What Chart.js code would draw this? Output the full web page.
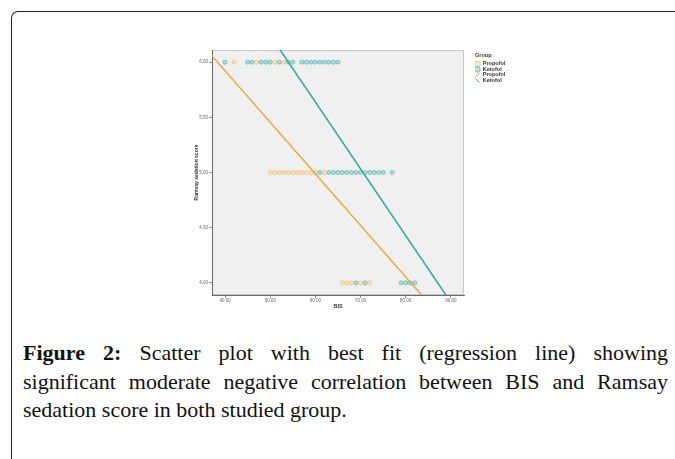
<!DOCTYPE html>
<html>
<head>
<meta charset="utf-8">
<script src="https://cdn.jsdelivr.net/npm/chart.js@4.4.1/dist/chart.umd.min.js"></script>
<style>
  html, body { margin: 0; padding: 0; background: #fff; }
  body { width: 675px; height: 459px; position: relative; overflow: hidden; }
  #frame { position: absolute; left: 11px; top: 11px; width: 720px; height: 520px;
           border-top: 1.5px solid #222; border-left: 1.5px solid #222; border-top-left-radius: 7px; }
  #wrap { position: absolute; left: 180px; top: 40px; width: 380px; height: 275px; }
  .cap { position: absolute; left: 23px; width: 645px; font-family: "Liberation Serif", "Times New Roman", serif;
         font-size: 22px; line-height: 28.5px; color: #111; }
  .cap div { white-space: nowrap; }
  .cap .just { text-align: justify; text-align-last: justify; white-space: normal; }
</style>
</head>
<body>
<div id="frame"></div>
<div id="wrap"><canvas id="chart" width="380" height="275"></canvas></div>
<div class="cap" style="top:339px">
  <div class="just"><b>Figure 2:</b> Scatter plot with best fit (regression line) showing</div>
  <div class="just">significant moderate negative correlation between BIS and Ramsay</div>
  <div>sedation score in both studied group.</div>
</div>
<script>
// BIS values, one list per Ramsay level (6, 5, 4)
const ramsayLevels = [6, 5, 4];
const propofolBIS = [
  [42, 47, 51, 53],
  [50, 51, 52, 53, 54, 55, 56, 57, 58, 59, 60, 62],
  [66, 67, 68, 70, 72]
];
const ketofolBIS = [
  [40, 45, 46, 48, 49, 50, 52, 54, 55, 57, 58, 59, 60, 61, 62, 63, 64, 65],
  [61, 63, 64, 65, 66, 67, 68, 69, 70, 71, 72, 73, 74, 75, 77],
  [69, 71, 79, 80, 81, 82]
];
// regression lines: score = intercept + slope * BIS  (propofol, ketofol)
const fitIntercept = [7.789, 9.268];
const fitSlope = [-0.0467, -0.0605];
const fitRange = [30, 100];

const xTicks = [40, 50, 60, 70, 80, 90];
const yTicks = [4, 4.5, 5, 5.5, 6];

const orange = '#eaa846', teal = '#2aa7a2';

function toPoints(rows) {
  const pts = [];
  rows.forEach((row, i) => row.forEach(b => pts.push({ x: b, y: ramsayLevels[i] })));
  return pts;
}
function fitLine(g) {
  return fitRange.map(b => ({ x: b, y: fitIntercept[g] + fitSlope[g] * b }));
}

Chart.defaults.font.family = '"Liberation Sans", Arial, sans-serif';

const plotBg = {
  id: 'plotBg',
  beforeDraw(chart) {
    const { ctx, chartArea: a } = chart;
    ctx.save();
    ctx.fillStyle = '#f0f0f0';
    ctx.fillRect(a.left, a.top, a.width, a.height);
    ctx.strokeStyle = '#c8c8c8';
    ctx.lineWidth = 1;
    ctx.strokeRect(a.left + 0.5, a.top + 0.5, a.width - 1, a.height - 1);
    ctx.restore();
  }
};

const tickFont = { size: 4.5 };

new Chart(document.getElementById('chart'), {
  type: 'scatter',
  data: {
    datasets: [
      { label: 'Propofol', data: toPoints(propofolBIS), order: 1,
        pointStyle: 'circle', pointRadius: 2, borderWidth: 0.8,
        borderColor: '#f0c27a', backgroundColor: 'rgba(247, 220, 172, 0.6)' },
      { label: 'Ketofol', data: toPoints(ketofolBIS), order: 1,
        pointStyle: 'circle', pointRadius: 2, borderWidth: 0.8,
        borderColor: '#5db8b5', backgroundColor: 'rgba(150, 206, 204, 0.6)' },
      { label: 'Propofol', data: fitLine(0), order: 0, showLine: true, clip: 0,
        borderColor: orange, borderWidth: 1.5, pointRadius: 0, pointStyle: 'line',
        pointRotation: -45, pointBorderColor: orange, pointBorderWidth: 1 },
      { label: 'Ketofol', data: fitLine(1), order: 0, showLine: true, clip: 0,
        borderColor: teal, borderWidth: 1.5, pointRadius: 0, pointStyle: 'line',
        pointRotation: 45, pointBorderColor: teal, pointBorderWidth: 1 }
    ]
  },
  options: {
    responsive: false,
    animation: false,
    devicePixelRatio: 1,
    layout: { padding: { left: 0, top: 10, right: 55, bottom: 0 } },
    plugins: {
      tooltip: { enabled: false },
      legend: {
        position: 'right',
        align: 'start',
        maxWidth: 30,
        title: { display: true, text: 'Group', position: 'start', color: '#333',
                 font: { size: 5.5, weight: 'bold' }, padding: { top: 3, bottom: 1.6 } },
        labels: { usePointStyle: true, boxWidth: 5, boxHeight: 4, padding: 0, color: '#333',
                  font: { size: 5.5, weight: 'bold' },
                  sort: (a, b) => a.datasetIndex - b.datasetIndex }
      }
    },
    scales: {
      x: {
        type: 'linear', position: 'bottom', min: 37.1, max: 92.9,
        afterFit: s => { s.height = 20; },
        afterBuildTicks: s => { s.ticks = xTicks.map(v => ({ value: v })); },
        ticks: { font: tickFont, color: '#666', padding: 0.5, maxRotation: 0,
                 callback: v => Number(v).toFixed(2) },
        grid: { drawOnChartArea: false, tickLength: 3, color: '#777', lineWidth: 0.8 },
        border: { color: '#6a6a6a', width: 1 },
        title: { display: true, text: 'BIS', color: '#333',
                 font: { size: 5.5, weight: 'bold' }, padding: { top: 0, bottom: 5 } }
      },
      y: {
        type: 'linear', position: 'left', min: 3.89, max: 6.11,
        afterFit: s => { s.width = 32; },
        afterBuildTicks: s => { s.ticks = yTicks.map(v => ({ value: v })); },
        ticks: { font: tickFont, color: '#666', padding: 1,
                 callback: v => Number(v).toFixed(2) },
        grid: { drawOnChartArea: false, tickLength: 3, color: '#777', lineWidth: 0.8 },
        border: { color: '#6a6a6a', width: 1 },
        title: { display: true, text: 'Ramsay sedation score', color: '#333',
                 font: { size: 5, weight: 'bold' }, padding: { top: 14, bottom: 0 } }
      },
      gap: {
        type: 'linear', position: 'right', display: true,
        afterFit: s => { s.width = 11; },
        ticks: { display: false }, grid: { display: false }, border: { display: false }
      }
    }
  },
  plugins: [plotBg]
});
</script>
</body>
</html>
